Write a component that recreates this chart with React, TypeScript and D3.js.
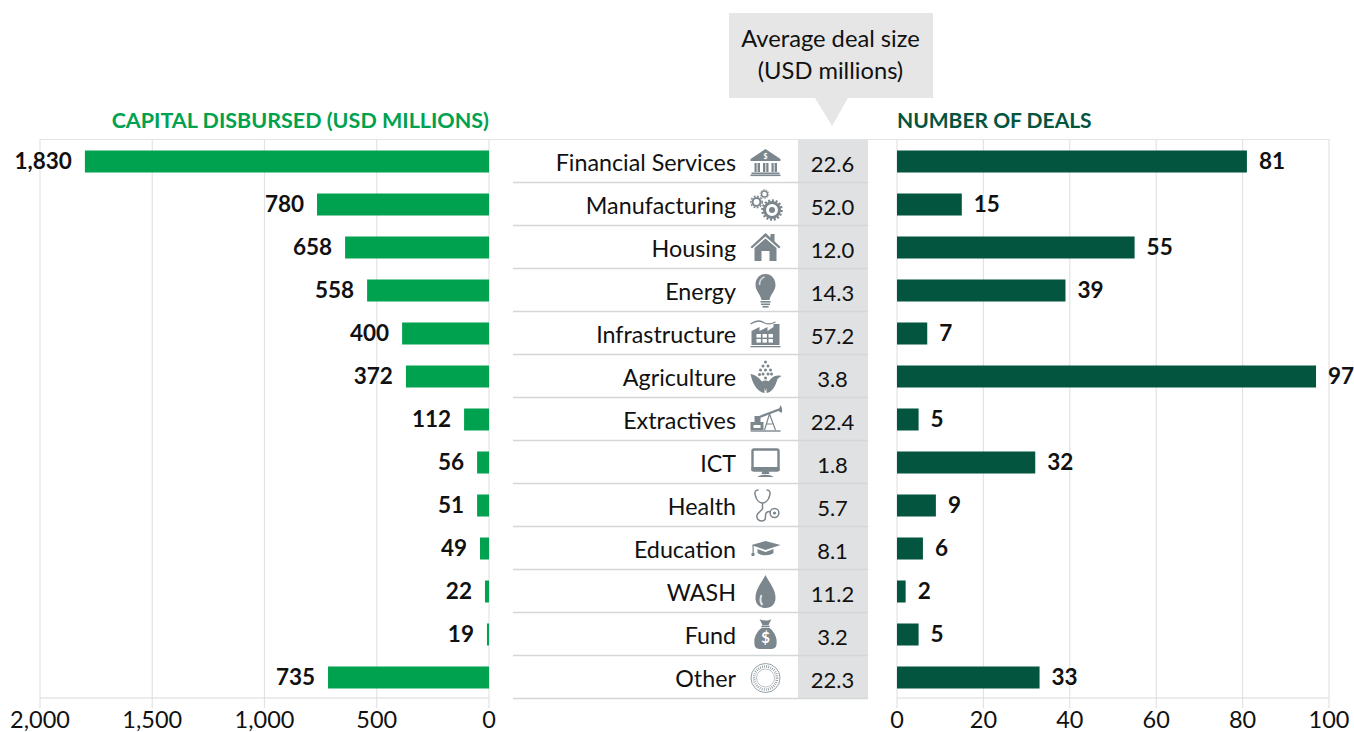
import React from "react";
import * as d3 from "d3";

const categories = ["Financial Services","Manufacturing","Housing","Energy","Infrastructure","Agriculture","Extractives","ICT","Health","Education","WASH","Fund","Other"];
// Bar lengths as drawn in the picture (they run a little short of their printed labels)
const capitalDrawn = [1800,766,641,543,387,370,111,53,53,40,18,9,717];
const capitalLabels = ["1,830","780","658","558","400","372","112","56","51","49","22","19","735"];
const averageDeal = ["22.6","52.0","12.0","14.3","57.2","3.8","22.4","1.8","5.7","8.1","11.2","3.2","22.3"];
const deals = [81,15,55,39,7,97,5,32,9,6,2,5,33];
const capitalTicks = [2000,1500,1000,500,0];
const dealTicks = [0,20,40,60,80,100];
const calloutLines = ["Average deal size","(USD millions)"];
const capitalTitle = "CAPITAL DISBURSED (USD MILLIONS)";
const dealsTitle = "NUMBER OF DEALS";

const FONT = "Lato, 'Open Sans', sans-serif";
const GREEN = "#00a14f";
const DARK = "#03553f";
const GRID = "#e3e3e3";
const ICON = "#7c868d";
const INK = "#111111";

function Icon({ name }: { name: string }) {
  const f = ICON;
  switch (name) {
    case "Financial Services":
      return <g fill={f}>
        <path d="M-15,-3 L0,-13 L15,-3 L15,-1 L-15,-1 Z" />
        <text y={-3.5} textAnchor="middle" fontSize={7} fontWeight={700} fill="#fff" fontFamily={FONT}>$</text>
        {[-11,-2.5,6].map(x => <g key={x}><rect x={x} y={1} width={5.5} height={9} /><rect x={x+2} y={1} width={1.4} height={9} fill="#cfd3d6"/></g>)}
        <rect x={-14} y={10.5} width={28} height={1.6} />
        <rect x={-15} y={12.5} width={30} height={1.6} />
      </g>;
    case "Manufacturing":
      return <g fill="none" stroke={f}>
        <circle cx={6.5} cy={5} r={7.5} strokeWidth={3} />
        <circle cx={6.5} cy={5} r={9.5} strokeWidth={2.6} strokeDasharray="2 1.7" />
        <circle cx={6.5} cy={5} r={3} strokeWidth={0} fill={f} />
        <circle cx={-9} cy={-3} r={4} strokeWidth={2.2} />
        <circle cx={-9} cy={-3} r={5.8} strokeWidth={1.4} strokeDasharray="1.8 1.6" />
        <circle cx={-1} cy={-11} r={3} strokeWidth={1.5} />
        <circle cx={-1} cy={-11} r={4.4} strokeWidth={.8} strokeDasharray="1.5 1.2" />
      </g>;
    case "Housing":
      return <g fill={f}>
        <path d="M-15,-1 L0,-15 L5,-10.5 L5,-14 L9,-14 L9,-6.8 L15,-1 L13.5,.5 L0,-11.5 L-13.5,.5 Z" />
        <path d="M-11,0 L0,-9.5 L11,0 L11,13 L4,13 L4,3 L-4,3 L-4,13 L-11,13 Z" />
      </g>;
    case "Energy":
      return <g fill={f}>
        <path d="M0,-17 C7,-17 10,-11 10,-6 C10,0 5,3 4,9 L-4,9 C-5,3 -10,0 -10,-6 C-10,-11 -7,-17 0,-17 Z" />
        <path d="M-6,-6 C-6,-10 -4,-13 -1,-14" fill="none" stroke="#d5d8da" strokeWidth={1.6} />
        <rect x={-5} y={10} width={10} height={1.6} />
        <rect x={-4.5} y={12.5} width={9} height={1.6} />
        <rect x={-3} y={15} width={6} height={1.6} />
      </g>;
    case "Infrastructure":
      return <g>
        <path d="M-15,-10 C-9,-14 -5,-14 -1,-11 C3,-9 6,-10 10,-12" fill="none" stroke={f} strokeWidth={1.3} />
        <path d="M-14,-3 L-6,-7 L-6,-3 L2,-7 L2,-3 L8,-7 L8,-10 L14,-10 L14,11 L-14,11 Z" fill={f} />
        {[-9,-3,3].map(x => [0,5].map(y => <rect key={`${x}${y}`} x={x} y={y} width={4.4} height={3.6} fill="#fff" />))}
        <rect x={-15} y={12} width={30} height={1.3} fill={f} />
      </g>;
    case "Agriculture":
      return <g fill={f}>
        <path d="M-1,16 C-8,15 -13,7 -15,-3 C-9,-2 -3,3 -1,10 Z" />
        <path d="M1,16 C7,15 10,9 12,2 C14,0 16,-1 16,-1 C9,-3 3,2 1,10 Z" />
        <path d="M-4,5 C-2,3 2,3 4,5 L0,14 Z" />
        {[[0,-15],[-2.5,-11],[2.5,-11],[-5,-7],[0,-7],[5,-7],[-2.5,-3],[2.5,-3],[-6,-2.5],[6,-3],[0,1]].map(([x,y],i) => <circle key={i} cx={x} cy={y} r={1.5} />)}
      </g>;
    case "Extractives":
      return <g>
        <path d="M-15,11 L15,11" stroke={f} strokeWidth={1.4} />
        <path d="M-15,2 L-2,2 L-2,10 L-15,10 Z M-11,-4 L-5,-4 L-5,2 L-11,2 Z" fill={f} />
        <rect x={-12} y={5} width={7} height={3} fill="#fff" />
        <path d="M-6,-3 L15,-11" stroke={f} strokeWidth={2.4} />
        <path d="M4,-6 L-1,10 M4,-6 L10,10 M1,4 L7,4" stroke={f} strokeWidth={1.2} fill="none" />
        <path d="M15,-15 C17,-12 17,-9 16,-7 L13,-9 Z" fill={f} />
      </g>;
    case "ICT":
      return <g>
        <rect x={-13} y={-13.5} width={26} height={21} rx={1.5} fill="#fff" stroke={f} strokeWidth={2.4} />
        <rect x={-14} y={4} width={28} height={4} fill={f} />
        <path d="M-3,8 L3,8 L4,11 L-4,11 Z" fill={f} />
        <path d="M-8,14 C-5,11 5,11 8,14 Z" fill={f} />
      </g>;
    case "Health":
      return <g fill="none" stroke={f} strokeWidth={1.5}>
        <path d="M-7,-16 C-11,-16 -11,-13 -10,-10 C-9,-6 -6,-3 -3,-3 C0,-3 3,-6 4,-10 C5,-13 5,-16 1,-16" />
        <path d="M-3,-3 L-3,3 L-8,8 C-10,12 -7,15 -4,15 C-1,15 0,13 0,11 L0,9 C0,6 3,5 5,6" />
        <circle cx={9} cy={7} r={4.4} />
        <circle cx={9} cy={7} r={1.6} fill={f} stroke="none" />
      </g>;
    case "Education":
      return <g fill={f}>
        <path d="M-14,-4 L0,-8 L15,-4 L0,1 Z" />
        <path d="M-8,0 L0,3 L8,0 L8,4 C4,7 -4,7 -8,4 Z" />
        <rect x={-13} y={-4} width={1.2} height={9} />
        <rect x={-14} y={4} width={3} height={3} />
      </g>;
    case "WASH":
      return <g>
        <path d="M0,-17 C4,-9 10,-3 10,6 C10,12 6,16 0,16 C-6,16 -10,12 -10,6 C-10,-3 -4,-9 0,-17 Z" fill={f} />
        <path d="M-4,3 C-6,8 -5,11 -3,13" fill="none" stroke="#e2e4e6" strokeWidth={2} />
      </g>;
    case "Fund":
      return <g>
        <path d="M-6,-16 C-3,-14 3,-14 6,-16 L3,-10 L-3,-10 Z" fill={f} />
        <rect x={-4} y={-9.5} width={8} height={1.8} fill={f} />
        <path d="M-4,-7 L4,-7 C9,-3 12,3 11,9 C11,13 8,14 5,14 L-5,14 C-8,14 -11,13 -11,9 C-12,3 -9,-3 -4,-7 Z" fill={f} />
        <text y={8} textAnchor="middle" fontSize={15} fontWeight={700} fill="#fff" fontFamily={FONT}>$</text>
      </g>;
    default:
      return <g fill="none" stroke={f}>
        <circle r={14.5} strokeWidth={.8} />
        <circle r={11.5} strokeWidth={2.6} strokeDasharray=".7 1.4" />
        <circle r={9} strokeWidth={.5} />
      </g>;
  }
}

export default function App() {
  const xLeft = d3.scaleLinear().domain([2000, 0]).range([40, 489]);
  const xRight = d3.scaleLinear().domain([0, 100]).range([897, 1329]);
  const y = d3.scaleBand<string>().domain(categories).range([139.5, 698.5]);
  const barH = 22;
  const bottom = y.range()[1] - 0.5;

  return (
    <svg width={1354} height={732} style={{ position: "absolute", left: 0, top: 0, display: "block" }} fontFamily={FONT}>
      {/* average-deal column */}
      <rect x={798} y={139} width={70} height={559} fill="#e0e1e3" />

      {/* grid */}
      {capitalTicks.map(t => (
        <g key={t}>
          <line x1={xLeft(t)} x2={xLeft(t)} y1={139} y2={708} stroke={GRID} strokeWidth={1.2} />
          <text x={xLeft(t)} y={727.5} textAnchor="middle" fontSize={23.5} fill={INK}>{d3.format(",")(t)}</text>
        </g>
      ))}
      {dealTicks.map(t => (
        <g key={t}>
          <line x1={xRight(t)} x2={xRight(t)} y1={139} y2={708} stroke={GRID} strokeWidth={1.2} />
          <text x={xRight(t)} y={727.5} textAnchor="middle" fontSize={23.5} fill={INK}>{t}</text>
        </g>
      ))}
      <line x1={40} x2={1329} y1={139.5} y2={139.5} stroke={GRID} strokeWidth={1.2} />
      <line x1={40} x2={489} y1={bottom} y2={bottom} stroke="#d9d9d9" strokeWidth={1.2} />
      <line x1={897} x2={1329} y1={bottom} y2={bottom} stroke="#d9d9d9" strokeWidth={1.2} />

      {/* row separators */}
      {categories.map(c => (
        <line key={c} x1={513} x2={868} y1={(y(c) as number) + y.bandwidth()} y2={(y(c) as number) + y.bandwidth()} stroke="#d4d6d8" strokeWidth={1.3} />
      ))}

      {/* callout */}
      <path d="M729,13 H933 V98 H848 L832,126 L815,98 H729 Z" fill="#e6e6e6" />
      {calloutLines.map((l, i) => (
        <text key={l} x={830.5} y={47 + i * 32} textAnchor="middle" fontSize={23.7} fill={INK}>{l}</text>
      ))}

      {/* titles */}
      <text x={489} y={128} textAnchor="end" fontSize={21.5} fontWeight={700} fill={GREEN}>{capitalTitle}</text>
      <text x={897} y={128} fontSize={21} fontWeight={700} fill={DARK}>{dealsTitle}</text>

      {categories.map((c, i) => {
        const top = y(c) as number;
        const cy = top + y.bandwidth() / 2;
        const by = cy - barH / 2 + 0.5;
        return (
          <g key={c}>
            <rect x={xLeft(capitalDrawn[i])} y={by} width={xLeft(0) - xLeft(capitalDrawn[i])} height={barH} fill={GREEN} />
            <text x={xLeft(capitalDrawn[i]) - 13} y={cy + 8} textAnchor="end" fontSize={22.5} fontWeight={700} fill={INK}>{capitalLabels[i]}</text>

            <rect x={xRight(0)} y={by} width={xRight(deals[i]) - xRight(0)} height={barH} fill={DARK} />
            <text x={xRight(deals[i]) + 12} y={cy + 8} fontSize={22.5} fontWeight={700} fill={INK}>{deals[i]}</text>

            <text x={736} y={cy + 10} textAnchor="end" fontSize={23.3} fill={INK}>{c}</text>
            <g transform={`translate(765.5,${cy + 1})`}><Icon name={c} /></g>
            <text x={832.5} y={cy + 11} textAnchor="middle" fontSize={22} fill={INK}>{averageDeal[i]}</text>
          </g>
        );
      })}
    </svg>
  );
}
